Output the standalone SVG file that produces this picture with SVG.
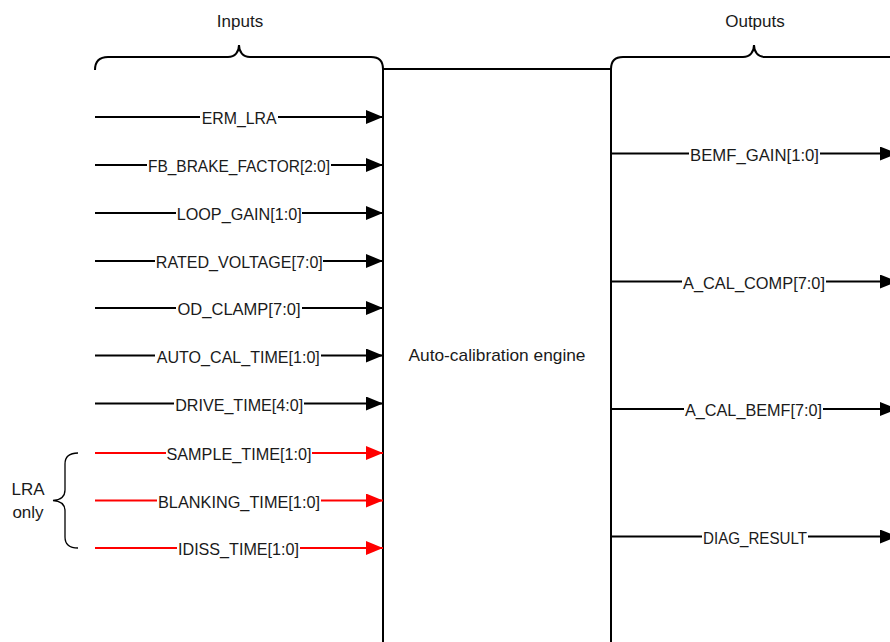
<svg xmlns="http://www.w3.org/2000/svg" width="890" height="642" viewBox="0 0 890 642">
<defs>
<style>
text{font-family:"Liberation Sans",Arial,sans-serif;font-size:17px;fill:#1a1a1a}
.lbl{text-anchor:middle}
.ttl{text-anchor:middle;font-size:17px}
.blk{stroke:#000;stroke-width:2;fill:none}
.red{stroke:#f00;stroke-width:2;fill:none}
.frame{stroke:#000;stroke-width:2;fill:none}
.thin{stroke:#000;stroke-width:1.3;fill:none}
</style>
<marker id="ab" markerUnits="userSpaceOnUse" markerWidth="18" markerHeight="14" refX="17" refY="7" orient="auto"><path d="M0,0 L17,7 L0,14 z" fill="#000"/></marker>
<marker id="ar" markerUnits="userSpaceOnUse" markerWidth="18" markerHeight="14" refX="17" refY="7" orient="auto"><path d="M0,0 L17,7 L0,14 z" fill="#f00"/></marker>
</defs>
<rect width="890" height="642" fill="#fff"/>
<g id="engine">
<path class="frame" d="M383,642 L383,69 L611,69 M611,69 L611,642"/>
<text x="497" y="361" class="ttl" textLength="177" lengthAdjust="spacingAndGlyphs">Auto-calibration engine</text>
</g>
<g id="inputs-brace">
<path class="frame" d="M95,70 Q95,57 108,57 L228,57 C235,57 239,52 239,45 C239,52 243,57 250,57 L371,57 Q383,57 383,69"/>
<text x="240" y="27" class="ttl">Inputs</text>
</g>
<g id="outputs-brace">
<path class="frame" d="M611,69 Q611,57 623,57 L743,57 C750,57 754,52 754,45 C754,52 758,57 765,57 L890,57"/>
<text x="755" y="27" class="ttl">Outputs</text>
</g>
<g id="lra-brace">
<path class="thin" d="M78,453 C70,453 65,456 65,464 L65,490 C65,497 60,500 53,500.5 C60,501 65,504 65,511 L65,537 C65,545 70,548 78,548"/>
<text x="28" y="495" class="ttl">LRA</text>
<text x="28" y="518" class="ttl">only</text>
</g>
<g id="connectors">
<path class="blk" d="M95,117 H200 M278,117 H383" marker-end="url(#ab)"/>
<path class="blk" d="M95,165 H147 M331,165 H383" marker-end="url(#ab)"/>
<path class="blk" d="M95,213 H176 M302,213 H383" marker-end="url(#ab)"/>
<path class="blk" d="M95,261 H155 M323,261 H383" marker-end="url(#ab)"/>
<path class="blk" d="M95,308 H176 M302,308 H383" marker-end="url(#ab)"/>
<path class="blk" d="M95,355.5 H155 M321,355.5 H383" marker-end="url(#ab)"/>
<path class="blk" d="M95,403.5 H174 M304,403.5 H383" marker-end="url(#ab)"/>
<path class="red" d="M95,453 H166 M312,453 H383" marker-end="url(#ar)"/>
<path class="red" d="M95,500.5 H157 M321,500.5 H383" marker-end="url(#ar)"/>
<path class="red" d="M95,548 H177 M300,548 H383" marker-end="url(#ar)"/>
<path class="blk" d="M611,153.5 H689 M820,153.5 H897" marker-end="url(#ab)"/>
<path class="blk" d="M611,281.5 H682 M826,281.5 H897" marker-end="url(#ab)"/>
<path class="blk" d="M611,409 H684 M823,409 H897" marker-end="url(#ab)"/>
<path class="blk" d="M611,536.5 H702 M808,536.5 H897" marker-end="url(#ab)"/>
<text x="239.2" y="124" class="lbl" textLength="75" lengthAdjust="spacingAndGlyphs">ERM_LRA</text>
<text x="239" y="172" class="lbl" textLength="182" lengthAdjust="spacingAndGlyphs">FB_BRAKE_FACTOR[2:0]</text>
<text x="239.2" y="220" class="lbl" textLength="125" lengthAdjust="spacingAndGlyphs">LOOP_GAIN[1:0]</text>
<text x="239.3" y="268" class="lbl" textLength="167" lengthAdjust="spacingAndGlyphs">RATED_VOLTAGE[7:0]</text>
<text x="239" y="315" class="lbl" textLength="123" lengthAdjust="spacingAndGlyphs">OD_CLAMP[7:0]</text>
<text x="238.3" y="362.5" class="lbl" textLength="163" lengthAdjust="spacingAndGlyphs">AUTO_CAL_TIME[1:0]</text>
<text x="239.2" y="410.5" class="lbl" textLength="128" lengthAdjust="spacingAndGlyphs">DRIVE_TIME[4:0]</text>
<text x="239" y="460" class="lbl" textLength="145" lengthAdjust="spacingAndGlyphs">SAMPLE_TIME[1:0]</text>
<text x="239" y="507.5" class="lbl" textLength="162" lengthAdjust="spacingAndGlyphs">BLANKING_TIME[1:0]</text>
<text x="238.5" y="555" class="lbl" textLength="121" lengthAdjust="spacingAndGlyphs">IDISS_TIME[1:0]</text>
<text x="754.5" y="160.5" class="lbl" textLength="129" lengthAdjust="spacingAndGlyphs">BEMF_GAIN[1:0]</text>
<text x="754" y="288.5" class="lbl" textLength="142" lengthAdjust="spacingAndGlyphs">A_CAL_COMP[7:0]</text>
<text x="753.5" y="416" class="lbl" textLength="137" lengthAdjust="spacingAndGlyphs">A_CAL_BEMF[7:0]</text>
<text x="755" y="543.5" class="lbl" textLength="104" lengthAdjust="spacingAndGlyphs">DIAG_RESULT</text>
</g>
</svg>
